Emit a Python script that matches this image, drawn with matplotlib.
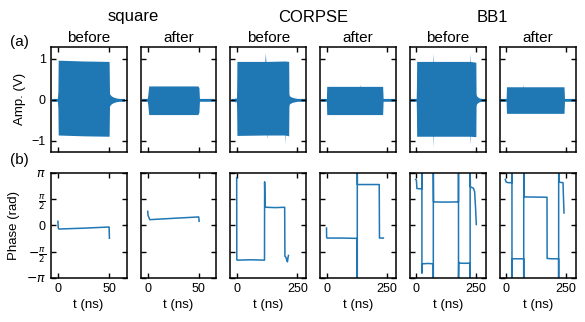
import numpy as np
import matplotlib
matplotlib.use('Agg')
import matplotlib.pyplot as plt

plt.rcParams['font.family'] = ['Liberation Sans', 'DejaVu Sans']
plt.rcParams['font.size'] = 9

BLUE = '#1f77b4'

groups = ['square', 'CORPSE', 'BB1']
stages = ['before', 'after']

# amplitude envelopes (t in ns, upper / lower in V)
sq_b_t = [-6, -0.5, 0, 0.3, 25, 49.5, 50, 50.4, 52, 54, 57, 60, 65]
sq_b_up = [0.035, 0.035, 0.2, 0.97, 0.95, 0.94, 0.93, 0.15, 0.1, 0.07, 0.045, 0.035, 0.035]
sq_b_lo = [-0.035, -0.035, -0.2, -0.86, -0.88, -0.89, -0.89, -0.15, -0.1, -0.07, -0.045, -0.035, -0.035]

sq_a_t = [-6, -0.5, 0, 1, 49, 50, 50.5, 65]
sq_a_up = [0.035, 0.035, 0.1, 0.34, 0.34, 0.3, 0.035, 0.035]
sq_a_lo = [-0.035, -0.035, -0.1, -0.36, -0.36, -0.3, -0.035, -0.035]

co_b_t = [-24, -7, -5, -3, -1, 0, 1, 116, 118, 120, 125, 126, 127, 197, 198, 199, 214, 215, 217, 222, 230, 240, 250, 282]
co_b_up = [0.035, 0.035, 0.07, 0.035, 0.035, 0.3, 0.94, 0.94, 1.15, 0.94, 0.94, 0.94, 0.94, 0.95, 0.95, 0.95, 0.94, 0.15, 0.1, 0.08, 0.06, 0.045, 0.035, 0.035]
co_b_lo = [-0.035, -0.035, -0.07, -0.035, -0.035, -0.3, -0.87, -0.86, -0.86, -0.86, -0.86, -0.94, -0.86, -0.86, -1.08, -0.86, -0.88, -0.15, -0.1, -0.08, -0.06, -0.045, -0.035, -0.035]

co_a_t = [-24, -0.5, 0, 1, 137, 138, 139, 231, 232, 233, 280]
co_a_up = [0.035, 0.035, 0.15, 0.33, 0.33, 0.37, 0.33, 0.33, 0.2, 0.035, 0.035]
co_a_lo = [-0.035, -0.035, -0.15, -0.36, -0.36, -0.36, -0.36, -0.36, -0.2, -0.035, -0.035]

bb_b_t = [-27, -1, 0, 1, 69, 70, 71, 224, 225, 226, 250, 251, 253, 258, 265, 275, 292]
bb_b_up = [0.035, 0.035, 0.3, 0.94, 0.94, 1.15, 0.94, 0.94, 1.15, 0.94, 0.92, 0.15, 0.1, 0.07, 0.045, 0.035, 0.035]
bb_b_lo = [-0.035, -0.035, -0.3, -0.89, -0.89, -1.15, -0.89, -0.89, -1.1, -0.89, -0.9, -0.15, -0.1, -0.07, -0.045, -0.035, -0.035]

bb_a_t = [-26, -0.5, 0, 1, 69, 70, 71, 243, 244, 245, 290]
bb_a_up = [0.035, 0.035, 0.15, 0.32, 0.32, 0.38, 0.32, 0.32, 0.2, 0.035, 0.035]
bb_a_lo = [-0.035, -0.035, -0.15, -0.33, -0.33, -0.33, -0.33, -0.33, -0.2, -0.035, -0.035]

# phase traces (t in ns, phase in rad)
sq_b_pt = [0, 0.4, 1, 25, 49.8, 50, 50.3]
sq_b_ph = [0.24, -0.17, -0.22, -0.17, -0.1, -0.1, -0.77]

sq_a_pt = [0, 0.3, 2, 25, 49, 49.8, 50.2]
sq_a_ph = [0.84, 0.6, 0.34, 0.42, 0.5, 0.5, 0.24]

co_b_pt = [0, 0.5, 2, 60, 114.5, 115, 116.5, 118, 121, 160, 197.5, 198.5, 203, 207, 209, 211, 213]
co_b_ph = [2.85, -2.06, -2.08, -2.06, -2.08, 2.6, 1.3, 1.12, 1.08, 1.06, 1.08, -1.85, -1.92, -2.12, -2.18, -1.95, -1.8]

co_a_pt = [0, 0.5, 2, 60, 126.5, 126.6, 126.7, 127, 170, 217, 218, 226, 234]
co_a_ph = [-0.16, -0.7, -0.76, -0.76, -0.78, -3.3, 3.3, 2.44, 2.44, 2.44, -0.76, -0.76, -0.76]

bb_b_pt = [-3, 0, 2, 22.9, 23, 23.1, 24, 50, 70.9, 71, 71.1, 72, 120, 176.9, 177, 177.1, 178, 182, 200,
           225.9, 226, 226.1, 227, 240, 245, 249, 252]
bb_b_ph = [2.74, 2.7, 2.2, 2.18, 3.3, -2.86, -2.3, -2.28, -2.3, -3.3, 3.3, 1.4, 1.39, 1.4, 3.3, -3.3, -2.2, -2.26, -2.27,
           -2.26, -3.3, 3.3, 2.3, 2.22, 2.0, 1.0, 0.05]

bb_a_pt = [-4, -2, 0, 10, 23.9, 24, 24.1, 25, 50, 73.4, 73.5, 73.6, 75, 120, 171.5, 172, 190, 220.4, 220.5, 220.6,
           222, 239, 240, 243]
bb_a_ph = [2.75, 2.65, 2.58, 2.55, 2.55, 3.3, -3.3, -2.0, -2.0, -2.0, -3.3, 3.3, 1.7, 1.69, 1.68, -1.98, -2.0, -2.0,
           -3.3, 3.3, 2.58, 2.55, 2.0, 0.74]

amp = [(sq_b_t, sq_b_up, sq_b_lo), (sq_a_t, sq_a_up, sq_a_lo),
       (co_b_t, co_b_up, co_b_lo), (co_a_t, co_a_up, co_a_lo),
       (bb_b_t, bb_b_up, bb_b_lo), (bb_a_t, bb_a_up, bb_a_lo)]
phase = [(sq_b_pt, sq_b_ph), (sq_a_pt, sq_a_ph),
         (co_b_pt, co_b_ph), (co_a_pt, co_a_ph),
         (bb_b_pt, bb_b_ph), (bb_a_pt, bb_a_ph)]

xlims = [(-7, 67), (-7, 67), (-26, 286), (-26, 286), (-27, 292), (-27, 292)]
xticks = [[0, 50], [0, 50], [0, 250], [0, 250], [0, 250], [0, 250]]

fig, axes = plt.subplots(2, 6, figsize=(5.85, 3.22), dpi=100)
fig.subplots_adjust(left=0.0867, right=0.984, top=0.855, bottom=0.137, wspace=0.185, hspace=0.2)

for i in range(6):
    ax1 = axes[0, i]
    ax2 = axes[1, i]
    t, up, lo = amp[i]
    ax1.fill_between(t, lo, up, color=BLUE, lw=0)
    pt, ph = phase[i]
    ax2.plot(pt, ph, color=BLUE, lw=1.1)

    for ax in (ax1, ax2):
        ax.set_xlim(*xlims[i])
        ax.set_xticks(xticks[i])
        ax.tick_params(direction='in', top=True, right=True, length=3.5, width=1, labelsize=9)
        for s in ax.spines.values():
            s.set_linewidth(1.1)

    ax1.set_ylim(-1.27, 1.3)
    ax1.set_yticks([-1, 0, 1])
    ax1.set_xticklabels([])
    ax1.set_title(stages[i % 2], fontsize=11, pad=3.5)

    ax2.set_ylim(-np.pi, np.pi)
    ax2.set_yticks([-np.pi, -np.pi / 2, 0, np.pi / 2, np.pi])
    ax2.set_xlabel('t (ns)', fontsize=9.5, labelpad=3)

    if i == 0:
        ax1.set_yticklabels(['\u22121', '0', '1'])
        ax2.set_yticklabels(['$-\\pi$', '$-\\frac{\\pi}{2}$', '0', '$\\frac{\\pi}{2}$', '$\\pi$'])
        ax1.set_ylabel('Amp. (V)', fontsize=9.5)
        ax2.set_ylabel('Phase (rad)', fontsize=9.5)
    else:
        ax1.set_yticklabels([])
        ax2.set_yticklabels([])

for k, g in enumerate(groups):
    l = axes[0, 2 * k].get_position()
    r = axes[0, 2 * k + 1].get_position()
    fig.text((l.x0 + r.x1) / 2, 1 - 17 / 322, g, ha='center', va='center', fontsize=12)

fig.text(0.017, 1 - 42 / 322, '(a)', ha='left', va='center', fontsize=11)
fig.text(0.017, 1 - 160 / 322, '(b)', ha='left', va='center', fontsize=11)

fig.savefig('out.png', dpi=100)
